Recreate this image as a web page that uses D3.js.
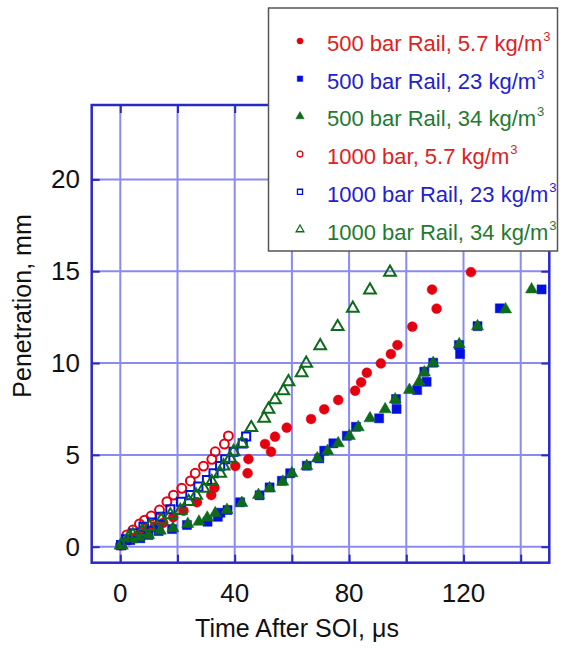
<!DOCTYPE html>
<html>
<head>
<meta charset="utf-8">
<title>spray penetration</title>
<script src="https://cdn.jsdelivr.net/npm/d3@7"></script>
<style>
  body { margin: 0; background: #fff; }
  text { font-family: "Liberation Sans", Arial, sans-serif; }
</style>
</head>
<body>
<script>

// data: [time after SOI (us), penetration (mm)]
var rail500_57 = [[0,0.1],[3,0.35],[6,0.6],[9,0.85],[12,1.1],[15,1.3],[18.5,1.6],[22.1,1.96],[26.8,2.42],
  [31.8,2.81],[32.9,3.21],[40.2,4.39],[44.5,4.0],[44.8,4.77],[50.6,5.59],[52.7,5.17],[54.1,5.99],[58.2,6.48],
  [66.7,6.95],[71.3,7.48],[76.2,7.99],[82.1,8.49],[84.2,8.95],[86.2,9.47],[91.1,9.98],[94.6,10.49],[96.9,10.98],
  [102.1,11.98],[109,14.0],[110.6,12.96],[122.6,14.95]];
var rail500_23 = [[0.3,0.09],[3.5,0.36],[7,0.46],[9.9,0.64],[13.4,0.85],[18.1,0.96],[23.3,1.18],[30.5,1.36],
  [34.1,1.63],[35,1.85],[37.5,2.0],[41.9,2.42],[48.7,2.8],[52.2,3.23],[56.5,3.59],[59.4,4.0],[65.2,4.41],
  [69.6,4.81],[71.3,5.23],[74.5,5.63],[79.2,6.04],[82.4,6.53],[90.5,6.99],[96.6,7.5],[96.4,8.04],[103.8,8.53],
  [107.1,8.98],[106.3,9.53],[109.4,10.02],[118.8,10.49],[118.4,10.98],[124.9,12.01],[132.7,12.98],[147.3,14.01]];
var rail500_34 = [[0.3,0.09],[4.1,0.4],[6.4,0.51],[9.9,0.64],[14,0.87],[18.4,1.0],[23.6,1.24],[27.5,1.36],
  [30.4,1.58],[33.2,1.82],[37.3,2.0],[42.5,2.38],[48.3,2.81],[52.2,3.18],[56.8,3.54],[60,4.0],[65.2,4.39],
  [68.9,4.81],[72.5,5.21],[76.2,5.63],[80.1,6.03],[83.2,6.5],[87.3,6.99],[92.6,7.48],[96.1,8.02],[101.1,8.53],
  [104.5,8.98],[106.3,9.49],[109.4,10.0],[118.5,11.02],[124.9,12.0],[134.7,12.92],[143.8,14.01]];
var bar1000_57 = [[0.3,0.09],[2.3,0.64],[4.4,0.91],[6.7,1.24],[8.5,1.45],[10.8,1.67],[13.7,2.0],[16.3,2.45],
  [18.6,2.81],[21.5,3.18],[24.5,3.58],[26.2,4.0],[29.1,4.39],[32,4.76],[33.2,5.17],[36.4,5.59],[37.8,6.03]];
var rail1000_23 = [[0.3,0.09],[2,0.4],[4.7,0.73],[8.1,1.09],[11.1,1.31],[14,1.63],[17.5,2.04],[21.2,2.45],
  [24.5,2.81],[27.3,3.27],[30.3,3.63],[32.6,4.0],[34.9,4.39],[36.7,4.76],[39.6,5.17],[42.8,5.63],[44,6.0]];
var rail1000_34 = [[0.3,0.09],[2.9,0.51],[4.4,0.64],[7.6,0.82],[10.2,1.09],[14.3,1.45],[17.5,1.73],[21,1.96],
  [23.9,2.45],[26.5,2.8],[29.1,3.18],[32,3.54],[34.9,4.0],[36.1,4.39],[38.4,4.81],[39.6,5.17],[42.5,5.63],
  [45.8,6.48],[50.3,6.99],[51.8,7.48],[54.1,7.99],[57,8.48],[58.8,8.98],[63.4,9.47],[65,9.98],[69.9,10.94],
  [76,11.98],[81.3,12.98],[87.3,13.97],[94.3,14.94]];

var seriesNames = ["500 bar Rail, 5.7 kg/m", "500 bar Rail, 23 kg/m", "500 bar Rail, 34 kg/m",
  "1000 bar, 5.7 kg/m", "1000 bar Rail, 23 kg/m", "1000 bar Rail, 34 kg/m"];
var xTicks = [0, 40, 80, 120];
var xGrid = [0, 20, 40, 60, 80, 100, 120, 140];
var yTicks = [0, 5, 10, 15, 20];

var red = "#e4000f", blue = "#0010e0", green = "#0e6b1c";
var series = [
  { name: seriesNames[0], data: rail500_57, color: red, shape: d3.symbolCircle, size: 76, open: false, txt: "#dd2222" },
  { name: seriesNames[1], data: rail500_23, color: blue, shape: d3.symbolSquare, size: 82, open: false, txt: "#2222cc" },
  { name: seriesNames[2], data: rail500_34, color: green, shape: d3.symbolTriangle, size: 64, open: false, txt: "#1f7a32" },
  { name: seriesNames[3], data: bar1000_57, color: red, shape: d3.symbolCircle, size: 62, open: true, txt: "#dd2222" },
  { name: seriesNames[4], data: rail1000_23, color: blue, shape: d3.symbolSquare, size: 66, open: true, txt: "#2222cc" },
  { name: seriesNames[5], data: rail1000_34, color: green, shape: d3.symbolTriangle, size: 60, open: true, txt: "#1f7a32" }
];

var w = 562, h = 648;
var svg = d3.select("body").append("svg").attr("width", w).attr("height", h);

var x = d3.scaleLinear().domain([-10, 150]).range([91.7, 549.3]);
var y = d3.scaleLinear().domain([-0.87, 24.05]).range([562.7, 105]);

var gridCol = "#8a8af0", frameCol = "#2828c8";

// grid
svg.selectAll(".vg").data(xGrid).enter().append("line")
  .attr("x1", function(d) { return x(d); }).attr("x2", function(d) { return x(d); })
  .attr("y1", y.range()[0]).attr("y2", y.range()[1])
  .attr("stroke", gridCol).attr("stroke-width", 2);
svg.selectAll(".hg").data(yTicks).enter().append("line")
  .attr("y1", function(d) { return y(d); }).attr("y2", function(d) { return y(d); })
  .attr("x1", x.range()[0]).attr("x2", x.range()[1])
  .attr("stroke", gridCol).attr("stroke-width", 2);

// axes with inner ticks on all four sides
var tl = 8;
svg.append("g").attr("transform", "translate(0," + y.range()[0] + ")")
  .call(d3.axisBottom(x).tickValues(xGrid).tickSize(-tl).tickFormat(""));
svg.append("g").attr("transform", "translate(0," + y.range()[1] + ")")
  .call(d3.axisTop(x).tickValues(xGrid).tickSize(-tl).tickFormat(""));
svg.append("g").attr("transform", "translate(" + x.range()[0] + ",0)")
  .call(d3.axisLeft(y).tickValues(yTicks).tickSize(-tl).tickFormat(""));
svg.append("g").attr("transform", "translate(" + x.range()[1] + ",0)")
  .call(d3.axisRight(y).tickValues(yTicks).tickSize(-tl).tickFormat(""));
svg.selectAll(".domain").remove();
svg.selectAll(".tick line").attr("stroke", frameCol).attr("stroke-width", 2);

svg.append("rect")
  .attr("x", x.range()[0]).attr("y", y.range()[1])
  .attr("width", x.range()[1] - x.range()[0]).attr("height", y.range()[0] - y.range()[1])
  .attr("fill", "none").attr("stroke", frameCol).attr("stroke-width", 2.5);

// tick labels
svg.selectAll(".xl").data(xTicks).enter().append("text")
  .attr("x", function(d) { return x(d); }).attr("y", 602)
  .attr("text-anchor", "middle").attr("font-size", 26).attr("fill", "#111")
  .text(function(d) { return d; });
svg.selectAll(".yl").data(yTicks).enter().append("text")
  .attr("x", 80).attr("y", function(d) { return y(d) + 9; })
  .attr("text-anchor", "end").attr("font-size", 26).attr("fill", "#111")
  .text(function(d) { return d; });

// axis titles
svg.append("text").attr("x", 297).attr("y", 637)
  .attr("text-anchor", "middle").attr("font-size", 25).attr("fill", "#111")
  .text("Time After SOI, \u03bcs");
svg.append("text").attr("transform", "translate(31,306) rotate(-90)")
  .attr("text-anchor", "middle").attr("font-size", 25).attr("fill", "#111")
  .text("Penetration, mm");

// points
series.forEach(function(s) {
  svg.append("g").selectAll("path").data(s.data).enter().append("path")
    .attr("transform", function(d) { return "translate(" + x(d[0]) + "," + y(d[1]) + ")"; })
    .attr("d", d3.symbol().type(s.shape).size(s.size))
    .attr("fill", s.open ? "none" : s.color)
    .attr("stroke", s.color)
    .attr("stroke-width", s.open ? 2 : 0.5);
});

// legend
var lg = svg.append("g");
lg.append("rect").attr("x", 268.5).attr("y", 8).attr("width", 289).attr("height", 243)
  .attr("fill", "#fff").attr("stroke", "#555").attr("stroke-width", 1.5);
var rows = lg.selectAll(".row").data(series).enter().append("g")
  .attr("transform", function(d, i) { return "translate(0," + (43 + i * 37.7) + ")"; });
rows.append("path")
  .attr("transform", "translate(300,-2)")
  .attr("d", function(d) { return d3.symbol().type(d.shape).size(d.open ? 26 : 30)(); })
  .attr("fill", function(d) { return d.open ? "none" : d.color; })
  .attr("stroke", function(d) { return d.color; })
  .attr("stroke-width", function(d) { return d.open ? 1.3 : 0.5; });
var lt = rows.append("text").attr("x", 327).attr("y", 8)
  .attr("font-size", 22).attr("fill", function(d) { return d.txt; });
lt.append("tspan").text(function(d) { return d.name; });
lt.append("tspan").attr("dy", -10).attr("dx", 1).attr("font-size", 13).text("3");

</script>
</body>
</html>
